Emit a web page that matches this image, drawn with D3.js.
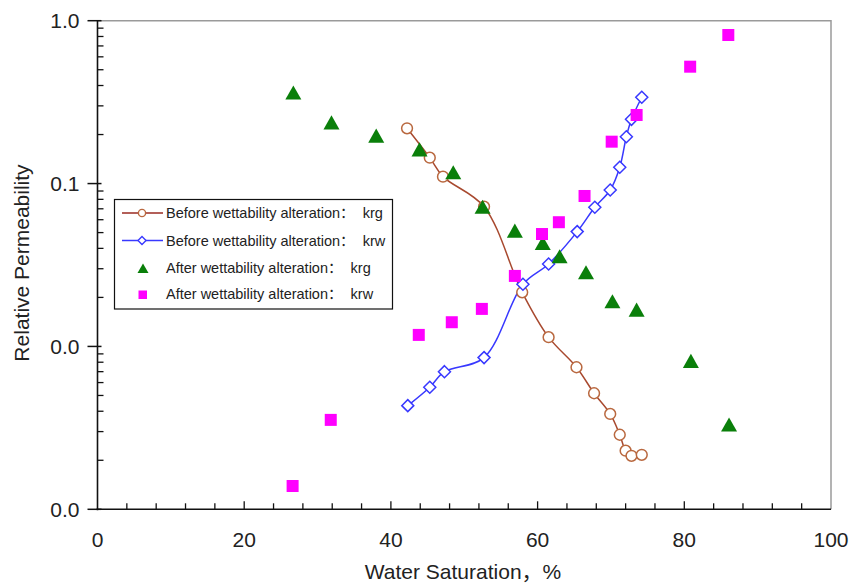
<!DOCTYPE html>
<html>
<head>
<meta charset="utf-8">
<script src="https://cdn.jsdelivr.net/npm/d3@7"></script>
<style>
  body { margin: 0; background: #fff; }
  text { font-family: "Liberation Sans", Arial, "Noto Sans CJK SC", sans-serif; fill: #222; }
</style>
</head>
<body>
<script>
// water saturation (%) and relative permeability
const beforeKrgSw = [42.2, 45.3, 47.1, 52.7, 57.9, 61.5, 65.3, 67.7, 69.9, 71.2, 72.0, 72.8, 74.2];
const beforeKrg   = [0.2185, 0.1442, 0.1103, 0.0721, 0.0215, 0.0114, 0.00745, 0.00516, 0.00385, 0.00287, 0.00229, 0.00213, 0.00216];

const beforeKrwSw = [42.3, 45.3, 47.3, 52.7, 58.0, 61.5, 65.4, 67.8, 69.9, 71.2, 72.1, 72.8, 74.2];
const beforeKrw   = [0.00433, 0.00562, 0.0070, 0.00854, 0.0241, 0.0321, 0.0507, 0.0715, 0.0913, 0.126, 0.194, 0.248, 0.339];

const afterKrgSw = [26.7, 31.9, 38.0, 43.9, 48.5, 52.5, 56.9, 60.7, 63.0, 66.6, 70.2, 73.5, 80.9, 86.1];
const afterKrg   = [0.361, 0.2365, 0.196, 0.1615, 0.1167, 0.0718, 0.0512, 0.043, 0.0356, 0.0284, 0.01884, 0.01675, 0.00812, 0.0033];

const afterKrwSw = [26.6, 31.8, 43.8, 48.3, 52.4, 56.9, 60.6, 62.9, 66.4, 70.1, 73.5, 80.8, 86.0];
const afterKrw   = [0.00139, 0.00354, 0.01177, 0.01408, 0.0170, 0.0271, 0.0490, 0.0579, 0.0839, 0.1808, 0.2637, 0.522, 0.817];

const xTicks = [0, 20, 40, 60, 80, 100];
const yTicks = [0.001, 0.01, 0.1, 1];
const yTickLabels = ["0.0", "0.0", "0.1", "1.0"];

const legendLabels = [
  "Before wettability alteration：  krg",
  "Before wettability alteration：  krw",
  "After wettability alteration：  krg",
  "After wettability alteration：  krw"
];

const width = 855, height = 586;
const plotLeft = 97.5, plotRight = 831, plotTop = 20.7, plotBottom = 509.3;

const svg = d3.select("body").append("svg")
  .attr("width", width)
  .attr("height", height);

const x = d3.scaleLinear().domain([0, 100]).range([plotLeft, plotRight]);
const y = d3.scaleLog().domain([0.001, 1]).range([plotBottom, plotTop]);

// grey frame on top and right
svg.append("path")
  .attr("d", `M${plotLeft},${plotTop}H${plotRight}V${plotBottom}`)
  .attr("fill", "none")
  .attr("stroke", "#9a9a9a")
  .attr("stroke-width", 1.5);

// x axis: minor ticks every 4, majors every 20, all pointing inward
const xMinor = d3.range(0, 101, 4).filter(v => v % 20 !== 0);
const xAxisG = svg.append("g").attr("transform", `translate(0,${plotBottom})`);
xAxisG.selectAll("line.minor").data(xMinor).enter().append("line")
  .attr("x1", d => x(d)).attr("x2", d => x(d))
  .attr("y1", 0).attr("y2", -6)
  .attr("stroke", "#111").attr("stroke-width", 1.3);
xAxisG.selectAll("line.major").data(xTicks.slice(1, -1)).enter().append("line")
  .attr("x1", d => x(d)).attr("x2", d => x(d))
  .attr("y1", 0).attr("y2", -8)
  .attr("stroke", "#111").attr("stroke-width", 1.3);
xAxisG.append("line")
  .attr("x1", plotLeft - 1).attr("x2", plotRight)
  .attr("stroke", "#111").attr("stroke-width", 1.6);
xAxisG.selectAll("text").data(xTicks).enter().append("text")
  .attr("x", d => x(d))
  .attr("y", 37.5)
  .attr("text-anchor", "middle")
  .style("font-size", "21px")
  .text(d => d);

// y axis: log, majors outward, minors inward
const yMinor = [];
[0.001, 0.01, 0.1].forEach(dec => d3.range(2, 10).forEach(k => yMinor.push(dec * k)));
const yAxisG = svg.append("g").attr("transform", `translate(${plotLeft},0)`);
yAxisG.selectAll("line.minor").data(yMinor).enter().append("line")
  .attr("y1", d => y(d)).attr("y2", d => y(d))
  .attr("x1", 0).attr("x2", 6)
  .attr("stroke", "#111").attr("stroke-width", 1.3);
yAxisG.selectAll("line.major").data(yTicks).enter().append("line")
  .attr("y1", d => y(d)).attr("y2", d => y(d))
  .attr("x1", -10).attr("x2", 4)
  .attr("stroke", "#111").attr("stroke-width", 1.5);
yAxisG.append("line")
  .attr("y1", plotTop).attr("y2", plotBottom + 1)
  .attr("stroke", "#111").attr("stroke-width", 1.6);
yAxisG.selectAll("text").data(yTicks).enter().append("text")
  .attr("x", -18)
  .attr("y", d => y(d))
  .attr("dy", "0.36em")
  .attr("text-anchor", "end")
  .style("font-size", "21px")
  .text((d, i) => yTickLabels[i]);

// axis titles
svg.append("text")
  .attr("x", 463)
  .attr("y", 579)
  .attr("text-anchor", "middle")
  .style("font-size", "21px")
  .text("Water Saturation，%");

svg.append("text")
  .attr("transform", "translate(29,263) rotate(-90)")
  .attr("text-anchor", "middle")
  .style("font-size", "21px")
  .text("Relative Permeability");

// markers
const triPath = s => `M0,${-s * 0.46}L${s / 2},${s * 0.42}L${-s / 2},${s * 0.42}Z`;
const diamondPath = r => `M0,${-r}L${r},0L0,${r}L${-r},0Z`;

const brownLine = "#a8492f", brownMark = "#b9683f";
const blue = "#3838ff", green = "#0a7f0a", magenta = "#ff00ff";

const line = d3.line()
  .x(d => x(d[0]))
  .y(d => y(d[1]))
  .curve(d3.curveCatmullRom.alpha(0.5));

const krgBefore = d3.zip(beforeKrgSw, beforeKrg);
const krwBefore = d3.zip(beforeKrwSw, beforeKrw);
const krgAfter = d3.zip(afterKrgSw, afterKrg);
const krwAfter = d3.zip(afterKrwSw, afterKrw);

svg.append("path").datum(krgBefore)
  .attr("d", line)
  .attr("fill", "none")
  .attr("stroke", brownLine)
  .attr("stroke-width", 1.5);

svg.append("path").datum(krwBefore)
  .attr("d", line)
  .attr("fill", "none")
  .attr("stroke", blue)
  .attr("stroke-width", 1.5);

svg.selectAll("circle.krg").data(krgBefore).enter().append("circle")
  .attr("cx", d => x(d[0]))
  .attr("cy", d => y(d[1]))
  .attr("r", 5.4)
  .attr("fill", "#fff")
  .attr("stroke", brownMark)
  .attr("stroke-width", 1.5);

svg.selectAll("path.krw").data(krwBefore).enter().append("path")
  .attr("transform", d => `translate(${x(d[0])},${y(d[1])})`)
  .attr("d", diamondPath(6))
  .attr("fill", "#fff")
  .attr("stroke", blue)
  .attr("stroke-width", 1.5);

svg.selectAll("path.krgA").data(krgAfter).enter().append("path")
  .attr("transform", d => `translate(${x(d[0])},${y(d[1])})`)
  .attr("d", triPath(16))
  .attr("fill", green);

svg.selectAll("rect.krwA").data(krwAfter).enter().append("rect")
  .attr("x", d => x(d[0]) - 6)
  .attr("y", d => y(d[1]) - 6)
  .attr("width", 12)
  .attr("height", 12)
  .attr("fill", magenta);

// legend
const legend = svg.append("g");
legend.append("rect")
  .attr("x", 114.5).attr("y", 199.5)
  .attr("width", 278).attr("height", 109.5)
  .attr("fill", "#fff")
  .attr("stroke", "#111")
  .attr("stroke-width", 1.2);

const rowY = [213, 240.5, 267.5, 294];
const rows = legend.selectAll("g.row").data(legendLabels).enter().append("g")
  .attr("transform", (d, i) => `translate(0,${rowY[i]})`);

rows.filter((d, i) => i < 2).append("line")
  .attr("x1", 122).attr("x2", 163)
  .attr("stroke", (d, i) => i === 0 ? "#9a2a22" : blue)
  .attr("stroke-width", 1.5);

rows.filter((d, i) => i === 0).append("circle")
  .attr("cx", 142).attr("r", 3.6)
  .attr("fill", "#fff").attr("stroke", brownMark).attr("stroke-width", 1.4);
rows.filter((d, i) => i === 1).append("path")
  .attr("transform", "translate(142,0)")
  .attr("d", diamondPath(4))
  .attr("fill", "#fff").attr("stroke", blue).attr("stroke-width", 1.4);
rows.filter((d, i) => i === 2).append("path")
  .attr("transform", "translate(143,1)")
  .attr("d", triPath(11))
  .attr("fill", green);
rows.filter((d, i) => i === 3).append("rect")
  .attr("x", 138.5).attr("y", -3.5)
  .attr("width", 8.5).attr("height", 8.5)
  .attr("fill", magenta);

rows.append("text")
  .attr("x", 166)
  .attr("dy", "0.36em")
  .style("font-size", "14.5px")
  .style("white-space", "pre")
  .text(d => d);
</script>
</body>
</html>
